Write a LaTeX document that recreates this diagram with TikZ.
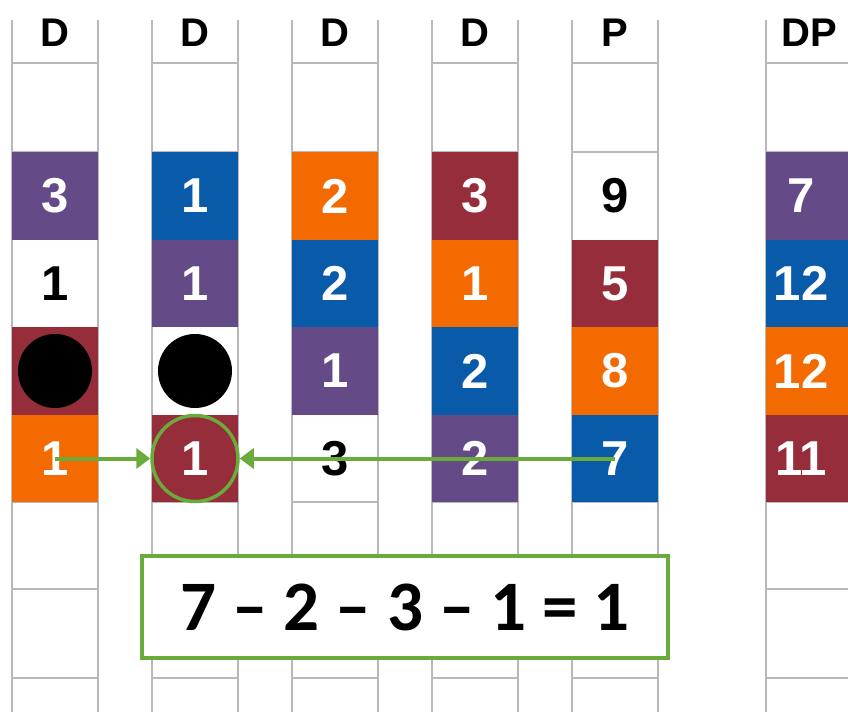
\documentclass[tikz,border=0pt]{standalone}
\usepackage{fontspec}
\setmainfont{Liberation Sans}
\newfontfamily\sumfont{Carlito}
\usetikzlibrary{arrows.meta}
\definecolor{cpurple}{HTML}{644B87}
\definecolor{cblue}{HTML}{0A5AAA}
\definecolor{corange}{HTML}{F36A00}
\definecolor{cred}{HTML}{962D3A}
\definecolor{cgreen}{HTML}{6AAB3C}
\definecolor{gridgray}{HTML}{B8B8B8}
\newcommand{\lefttext}[1]{\kern-16pt#1}

\begin{document}
\begin{tikzpicture}[x=1pt, y=-1pt,
  gridline/.style={draw=gridgray, line width=1.4pt},
  head/.style={font=\bfseries\fontsize{40}{40}\selectfont},
  cell/.style={minimum width=86pt, minimum height=87.5pt, inner sep=0pt, font=\bfseries\fontsize{49}{49}\selectfont},
  wcell/.style={cell, text=black},
  pcell/.style={cell, fill=cpurple, text=white},
  bcell/.style={cell, fill=cblue, text=white},
  ocell/.style={cell, fill=corange, text=white},
  rcell/.style={cell, fill=cred, text=white},
  dot/.style={circle, fill=black, minimum size=74pt, inner sep=0pt},
  ring/.style={circle, draw=cgreen, line width=3.5pt, minimum size=86pt, inner sep=0pt},
  arr/.style={-{Triangle[length=14pt,width=20pt]}, draw=cgreen, line width=4pt},
  sumbox/.style={draw=cgreen, line width=3.5pt, fill=white, minimum width=526pt, minimum height=102pt,
    font=\sumfont\bfseries\fontsize{71}{71}\selectfont}
]
\useasboundingbox (0,0) rectangle (848,720);

% empty columns
\foreach \xl in {12,152,292,432,572,766} {
  \draw[gridline] (\xl,20) -- (\xl,712);
  \draw[gridline] (\xl+86,20) -- (\xl+86,712);
  \foreach \yl in {63,152,502,589,678}
    \draw[gridline] (\xl,\yl) -- (\xl+86,\yl);
}

% headers
\node[head] (h1) at (55,33) {D};
\node[head] (h2) at (195,33) {D};
\node[head] (h3) at (335,33) {D};
\node[head] (h4) at (475,33) {D};
\node[head] (h5) at (615,33) {P};
\node[head] (h6) at (809,33) {DP};

% column 1
\node[pcell] (c1r1) at (55,196) {3};
\node[wcell] (c1r2) at (55,283.5) {1};
\node[rcell] (c1r3) at (55,371) {};
\node[ocell] (c1r4) at (55,458.5) {1};

% column 2
\node[bcell] (c2r1) at (195,196) {1};
\node[pcell] (c2r2) at (195,283.5) {1};
\node[wcell] (c2r3) at (195,371) {};
\node[rcell] (c2r4) at (195,458.5) {1};

% column 3
\node[ocell] (c3r1) at (335,196) {2};
\node[bcell] (c3r2) at (335,283.5) {2};
\node[pcell] (c3r3) at (335,371) {1};
\node[wcell] (c3r4) at (335,458.5) {3};

% column 4
\node[rcell] (c4r1) at (475,196) {3};
\node[ocell] (c4r2) at (475,283.5) {1};
\node[bcell] (c4r3) at (475,371) {2};
\node[pcell] (c4r4) at (475,458.5) {2};

% column 5
\node[wcell] (c5r1) at (615,196) {9};
\node[rcell] (c5r2) at (615,283.5) {5};
\node[ocell] (c5r3) at (615,371) {8};
\node[bcell] (c5r4) at (615,458.5) {7};

% column 6
\node[pcell] (c6r1) at (809,196) {\lefttext{7}};
\node[bcell] (c6r2) at (809,283.5) {\lefttext{12}};
\node[ocell] (c6r3) at (809,371) {\lefttext{12}};
\node[rcell] (c6r4) at (809,458.5) {\lefttext{11}};

% black dots
\node[dot] (k1) at (c1r3) {};
\node[dot] (k2) at (c2r3) {};

\node[ring] (hit) at (c2r4) {};
\draw[arr] (c1r4.center) -- (hit.west);
\draw[arr] (c5r4.center) -- (hit.east);

\node[sumbox] (sum) at (405,607) {7 – 2 – 3 – 1 = 1};
\end{tikzpicture}
\end{document}
